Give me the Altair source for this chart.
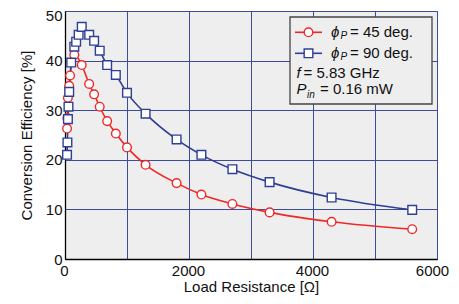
import altair as alt
import pandas as pd

# Phi_P = 45 deg.
r45 = [33, 39, 47, 68, 82, 150, 270, 390, 470, 560, 680, 820, 1000, 1300, 1800, 2200, 2700, 3300, 4300, 5600]
e45 = [26.3, 28.4, 32.5, 34.9, 37.0, 41.2, 39.1, 35.3, 33.2, 30.7, 27.8, 25.3, 22.5, 19.0, 15.3, 13.0, 11.1, 9.4, 7.5, 6.0]
# Phi_P = 90 deg.
r90 = [33, 39, 47, 56, 68, 100, 150, 180, 220, 270, 390, 470, 560, 680, 820, 1000, 1300, 1800, 2200, 2700, 3300, 4300, 5600]
e90 = [21.0, 23.5, 28.2, 30.7, 33.7, 39.6, 42.8, 43.8, 45.2, 46.8, 45.2, 44.0, 42.0, 39.1, 37.1, 33.5, 29.3, 24.1, 21.0, 18.1, 15.5, 12.4, 9.9]

series = ["45", "90"]
colors = ["#f02828", "#2e3f95"]
shapes = ["circle", "square"]
x_ticks = [0, 1000, 2000, 3000, 4000, 5000, 6000]
y_ticks = [0, 10, 20, 30, 40, 50]

df = pd.concat([
    pd.DataFrame({"R": r45, "E": e45, "s": series[0]}),
    pd.DataFrame({"R": r90, "E": e90, "s": series[1]}),
])

FONT = "Liberation Sans"

x = alt.X("R:Q", scale=alt.Scale(domain=[0, 6000], nice=False),
          axis=alt.Axis(values=x_ticks, title="Load Resistance [Ω]",
                        labelExpr="datum.value % 2000 == 0 ? format(datum.value, 'd') : ''",
                        labelFlush=False, labelPadding=4, titlePadding=1,
                        labelOffset={"condition": {"test": "datum.value == 6000", "value": -5}, "value": -1}))
y = alt.Y("E:Q", scale=alt.Scale(domain=[0, 50], nice=False),
          axis=alt.Axis(values=y_ticks, title="Conversion Efficiency [%]",
                        labelFlush=False, labelPadding=3, titlePadding=11,
                        labelOffset={"condition": {"test": "datum.value == 50", "value": 4},
                                     "value": 0}))
col = alt.Color("s:N", scale=alt.Scale(domain=series, range=colors), legend=None)
shp = alt.Shape("s:N", scale=alt.Scale(domain=series, range=shapes), legend=None)

base = alt.Chart(df)
lines = base.mark_line(interpolate="monotone", strokeWidth=1.6).encode(x=x, y=y, color=col, detail="s:N")
points = base.mark_point(fill="white", fillOpacity=1, opacity=1, strokeWidth=1.4, size=75).encode(
    x=x, y=y, color=col, shape=shp)

one = alt.Data(values=[{}])


def txt(t, px, py, size=15, italic=False, baseline="middle"):
    return alt.Chart(one).mark_text(
        text=t, align="left", baseline=baseline, fontSize=size, font=FONT,
        fontStyle="italic" if italic else "normal", color="#111"
    ).encode(x=alt.value(px), y=alt.value(py))


# legend (annotation box), in plot-pixel coordinates
box = alt.Chart(one).mark_rect(fill="#eeeeee", stroke="#444", strokeWidth=1.3).encode(
    x=alt.value(225), x2=alt.value(367), y=alt.value(6), y2=alt.value(93))

leg = [box]
for i, (yy, lab) in enumerate([(21.3, "= 45 deg."), (42.3, "= 90 deg.")]):
    leg.append(alt.Chart(one).mark_rule(color=colors[i], strokeWidth=1.6).encode(
        x=alt.value(230), x2=alt.value(257), y=alt.value(yy)))
    leg.append(alt.Chart(one).mark_point(shape=shapes[i], color=colors[i], fill="white", fillOpacity=1,
                                         opacity=1, strokeWidth=1.4, size=75).encode(
        x=alt.value(243.5), y=alt.value(yy)))
    leg.append(txt("ϕ", 266, yy, italic=True))
    leg.append(txt("P", 275.5, yy + 4, size=10, italic=True))
    leg.append(txt(lab, 285, yy))

leg.append(txt("f", 231.5, 62.3, italic=True))
leg.append(txt("= 5.83 GHz", 238.5, 62.3))
leg.append(txt("P", 231.5, 77.5, italic=True))
leg.append(txt("in", 242, 83.5, size=10, italic=True))
leg.append(txt("= 0.16 mW", 255, 77.5))

chart = alt.layer(lines, points, *leg).properties(
    width=372, height=248,
    autosize=alt.AutoSizeParams(type="none"),
    padding={"left": 57, "top": 3, "right": 14, "bottom": 37},
    background="white",
).configure_view(
    fill="#eeeeee", stroke="#333333", strokeWidth=1
).configure_axis(
    grid=True, gridColor="#3b4c9c", gridWidth=1, gridOpacity=1,
    domainColor="#000000", domainWidth=1.3, ticks=False,
    labelFont=FONT, titleFont=FONT, labelFontSize=15, titleFontSize=15,
    labelColor="#111", titleColor="#111", titleFontWeight="normal",
)

chart.save("out.html", embed_options={"renderer": "svg", "actions": False})
